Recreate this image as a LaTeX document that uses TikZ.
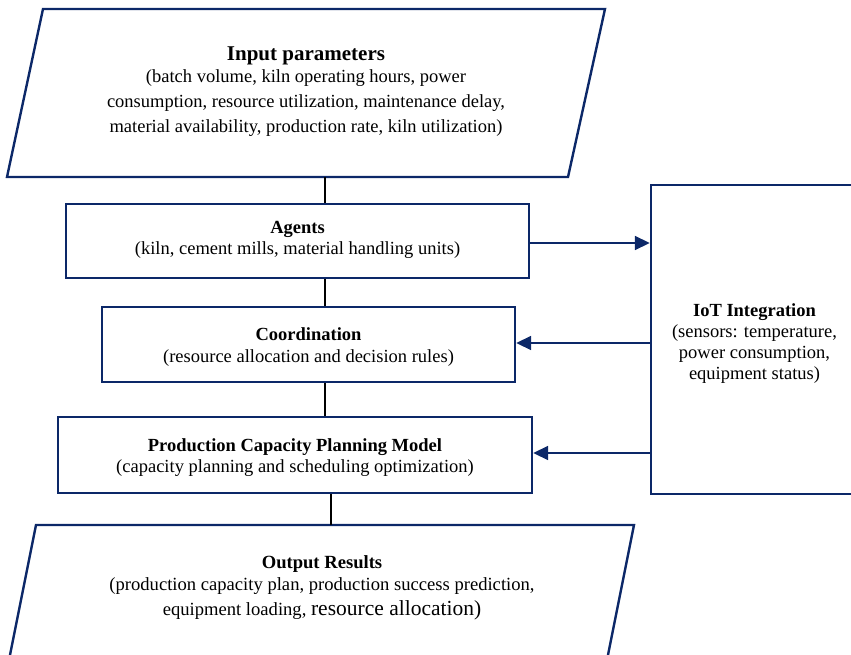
\documentclass[tikz,border=0pt]{standalone}
\usepackage{fontspec}
\setmainfont{Liberation Serif}
\usetikzlibrary{arrows.meta}
\definecolor{navy}{HTML}{0C2868}
\tikzset{
  box/.style={draw=navy, line width=2.4pt, rectangle, align=center, inner sep=0pt},
  txt/.style={align=center, inner sep=0pt, font=\fontsize{18.5}{21.5}\selectfont},
  link/.style={draw=black, line width=1.8pt},
  arr/.style={draw=navy, line width=1.8pt, -{Triangle[length=15pt,width=14pt]}},
}
\begin{document}
\begin{tikzpicture}[x=1pt,y=-1pt]
\useasboundingbox (0,0) rectangle (851,655);
\clip (0,0) rectangle (851,655);
% input parallelogram
\draw[navy, line width=2.4pt] (43,9) -- (605,9) -- (568,177) -- (7,177) -- cycle;
\node[txt, font=\fontsize{18.5}{25}\selectfont] (inp) at (306,91.5) {{\fontsize{21}{23}\selectfont\bfseries Input parameters}\\[-3pt](batch volume, kiln operating hours, power\\consumption, resource utilization, maintenance delay,\\material availability, production rate, kiln utilization)};
\coordinate (inpb) at (325,177);
% agents
\node[box, minimum width=463pt, minimum height=74pt] (ag) at (297.5,241) {};
\node[txt] (agt) at (297.5,240) {{\bfseries Agents}\\(kiln, cement mills, material handling units)};
% coordination
\node[box, minimum width=413pt, minimum height=75pt] (co) at (308.5,344.5) {};
\node[txt] (cot) at (308.5,347) {{\bfseries Coordination}\\(resource allocation and decision rules)};
% PCPM
\node[box, minimum width=474pt, minimum height=76pt] (pc) at (295,455) {};
\node[txt] (pct) at (295,457.5) {{\bfseries Production Capacity Planning Model}\\(capacity planning and scheduling optimization)};
% IoT
\node[box, minimum width=220pt, minimum height=309pt] (iot) at (761,339.5) {};
\node[txt, font=\fontsize{18.5}{21}\selectfont] (iott) at (754.5,344) {{\bfseries IoT Integration}\\(sensors: temperature,\\power consumption,\\equipment status)};
% output parallelogram
\draw[navy, line width=2.4pt] (36,525) -- (634,525) -- (603,680) -- (5,680) -- cycle;
\node[txt, font=\fontsize{18.6}{22}\selectfont] (out) at (322,588) {{\bfseries Output Results}\\(production capacity plan, production success prediction,\\[3pt]equipment loading, {\fontsize{21.5}{24}\selectfont resource allocation)}};
\coordinate (outt) at (331,525);
% connectors
\draw[link] (inpb) -- (inpb |- ag.north);
\draw[link] (ag.south -| 325,0) -- (co.north -| 325,0);
\draw[link] (co.south -| 325,0) -- (pc.north -| 325,0);
\draw[link] (pc.south -| outt) -- (outt);
\draw[arr] (ag.east |- 0,243) -- (iot.west |- 0,243);
\draw[arr] (iot.west |- 0,343) -- (co.east |- 0,343);
\draw[arr] (iot.west |- 0,453) -- (pc.east |- 0,453);
\end{tikzpicture}
\end{document}
